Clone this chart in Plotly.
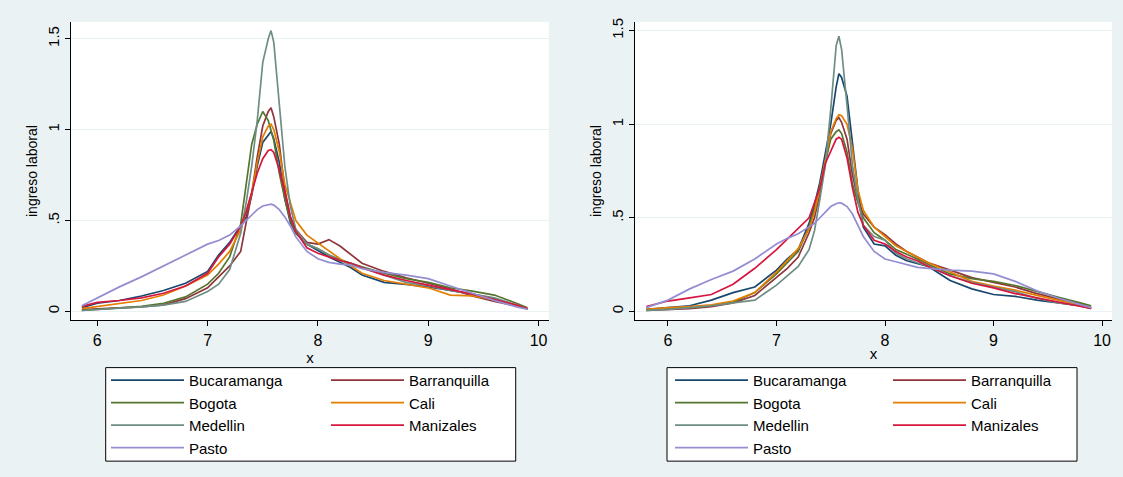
import plotly.graph_objects as go

W, H = 1123, 477

cities = ["Bucaramanga", "Barranquilla", "Bogota", "Cali", "Medellin", "Manizales", "Pasto"]
colors = ["#1a476f", "#90353b", "#55752f", "#e37e00", "#6e8e84", "#d6163f", "#938dd2"]

x_left = [5.86, 6.0, 6.2, 6.4, 6.6, 6.8, 7.0, 7.1, 7.2, 7.3, 7.35, 7.4, 7.45, 7.5,
          7.55, 7.575, 7.6, 7.65, 7.7, 7.75, 7.8, 7.9, 8.0, 8.1, 8.2, 8.3, 8.4, 8.6, 8.8,
          9.0, 9.2, 9.4, 9.6, 9.8, 9.9]
x_right = [5.8, 6.0, 6.2, 6.4, 6.6, 6.8, 7.0, 7.1, 7.2, 7.3, 7.35, 7.4, 7.45, 7.5,
           7.55, 7.575, 7.6, 7.65, 7.7, 7.75, 7.8, 7.9, 8.0, 8.1, 8.2, 8.3, 8.4, 8.6, 8.8,
           9.0, 9.2, 9.4, 9.6, 9.8, 9.9]

# left panel densities
bucaramanga_l = [0.02, 0.045, 0.06, 0.085, 0.115, 0.155, 0.22, 0.31, 0.38, 0.47, 0.52, 0.64, 0.8, 0.93,
                 0.97, 0.99, 0.95, 0.82, 0.62, 0.49, 0.43, 0.37, 0.335, 0.3, 0.27, 0.24, 0.2, 0.16, 0.148,
                 0.135, 0.115, 0.095, 0.07, 0.035, 0.015]
barranquilla_l = [0.01, 0.015, 0.02, 0.025, 0.036, 0.07, 0.13, 0.19, 0.25, 0.33, 0.49, 0.65, 0.85, 1.02,
                  1.1, 1.12, 1.07, 0.92, 0.67, 0.52, 0.45, 0.38, 0.37, 0.395, 0.36, 0.315, 0.265, 0.22, 0.185,
                  0.155, 0.125, 0.085, 0.055, 0.03, 0.015]
bogota_l = [0.005, 0.01, 0.02, 0.028, 0.045, 0.08, 0.15, 0.21, 0.3, 0.48, 0.7, 0.92, 1.03, 1.1,
            1.05, 1.0, 0.94, 0.76, 0.62, 0.5, 0.43, 0.37, 0.345, 0.31, 0.285, 0.265, 0.245, 0.21, 0.18,
            0.16, 0.13, 0.112, 0.09, 0.045, 0.02]
cali_l = [0.015, 0.027, 0.04, 0.06, 0.09, 0.14, 0.2, 0.26, 0.33, 0.45, 0.55, 0.65, 0.82, 0.96,
          1.02, 1.03, 1.0, 0.88, 0.7, 0.6, 0.5, 0.42, 0.375, 0.33, 0.29, 0.25, 0.21, 0.17, 0.15,
          0.13, 0.09, 0.085, 0.065, 0.03, 0.015]
medellin_l = [0.005, 0.01, 0.015, 0.025, 0.035, 0.055, 0.11, 0.15, 0.23, 0.43, 0.6, 0.8, 1.05, 1.37,
              1.5, 1.545, 1.48, 1.15, 0.8, 0.58, 0.45, 0.37, 0.345, 0.31, 0.28, 0.26, 0.24, 0.2, 0.16,
              0.14, 0.115, 0.095, 0.075, 0.035, 0.015]
manizales_l = [0.028, 0.05, 0.06, 0.075, 0.1, 0.14, 0.21, 0.3, 0.37, 0.47, 0.55, 0.66, 0.76, 0.84,
               0.885, 0.89, 0.875, 0.78, 0.66, 0.52, 0.44, 0.35, 0.32, 0.3, 0.28, 0.265, 0.24, 0.2, 0.17,
               0.145, 0.12, 0.095, 0.065, 0.035, 0.015]
pasto_l = [0.031, 0.075, 0.135, 0.19, 0.25, 0.31, 0.37, 0.39, 0.42, 0.47, 0.5, 0.53, 0.56, 0.58,
           0.585, 0.59, 0.585, 0.56, 0.52, 0.47, 0.41, 0.33, 0.29, 0.27, 0.26, 0.255, 0.235, 0.215, 0.2,
           0.18, 0.14, 0.1, 0.06, 0.025, 0.012]

# right panel densities
bucaramanga_r = [0.01, 0.02, 0.03, 0.06, 0.1, 0.13, 0.22, 0.28, 0.33, 0.47, 0.57, 0.69, 0.85, 1.0,
                 1.2, 1.27, 1.25, 1.15, 0.9, 0.65, 0.45, 0.36, 0.35, 0.3, 0.27, 0.255, 0.24, 0.165, 0.12,
                 0.09, 0.08, 0.06, 0.045, 0.03, 0.015]
barranquilla_r = [0.005, 0.01, 0.015, 0.025, 0.045, 0.085, 0.18, 0.23, 0.29, 0.42, 0.5, 0.63, 0.8, 0.95,
                  1.02, 1.035, 1.01, 0.92, 0.73, 0.6, 0.52, 0.45, 0.41, 0.36, 0.32, 0.29, 0.26, 0.22, 0.18,
                  0.155, 0.13, 0.095, 0.065, 0.04, 0.02]
bogota_r = [0.01, 0.015, 0.02, 0.03, 0.05, 0.1, 0.2, 0.26, 0.32, 0.45, 0.55, 0.67, 0.8, 0.92,
            0.96, 0.97, 0.95, 0.85, 0.68, 0.58, 0.5, 0.42, 0.38, 0.33, 0.305, 0.28, 0.25, 0.2, 0.175,
            0.16, 0.138, 0.105, 0.075, 0.045, 0.03]
cali_r = [0.01, 0.02, 0.025, 0.035, 0.055, 0.1, 0.21, 0.27, 0.335, 0.44, 0.53, 0.66, 0.81, 0.96,
          1.03, 1.05, 1.045, 1.0, 0.87, 0.65, 0.54, 0.45, 0.4, 0.35, 0.32, 0.29, 0.26, 0.21, 0.16,
          0.135, 0.113, 0.085, 0.06, 0.035, 0.02]
medellin_r = [0.005, 0.01, 0.02, 0.03, 0.045, 0.06, 0.14, 0.19, 0.24, 0.33, 0.43, 0.6, 0.78, 1.08,
              1.42, 1.47, 1.4, 1.1, 0.78, 0.6, 0.46, 0.4, 0.38, 0.31, 0.28, 0.26, 0.24, 0.19, 0.155,
              0.13, 0.105, 0.07, 0.045, 0.03, 0.015]
manizales_r = [0.026, 0.055, 0.072, 0.09, 0.145, 0.23, 0.33, 0.385, 0.44, 0.5, 0.58, 0.66, 0.79, 0.86,
               0.92, 0.93, 0.92, 0.82, 0.66, 0.53, 0.46, 0.38, 0.36, 0.32, 0.29, 0.27, 0.24, 0.19, 0.15,
               0.125, 0.095, 0.072, 0.05, 0.03, 0.015]
pasto_r = [0.02, 0.06, 0.12, 0.17, 0.215, 0.28, 0.36, 0.39, 0.415, 0.45, 0.47, 0.5, 0.53, 0.56,
           0.575, 0.58, 0.578, 0.56, 0.52, 0.46, 0.4, 0.32, 0.28, 0.265, 0.25, 0.235, 0.23, 0.22, 0.215,
           0.2, 0.16, 0.11, 0.07, 0.035, 0.02]

left_series = [bucaramanga_l, barranquilla_l, bogota_l, cali_l, medellin_l, manizales_l, pasto_l]
right_series = [bucaramanga_r, barranquilla_r, bogota_r, cali_r, medellin_r, manizales_r, pasto_r]

x_ticks = [6, 7, 8, 9, 10]
y_ticks = [0, 0.5, 1, 1.5]
y_ticktext = ["0", ".5", "1", "1.5"]

FONT = "Arial, Liberation Sans, sans-serif"

fig = go.Figure()

# legend column assignment (row-wise filling, 2 columns)
col_of = [0, 1, 0, 1, 0, 1, 0]
for i, (name, c) in enumerate(zip(cities, colors)):
    fig.add_trace(go.Scatter(x=x_left, y=left_series[i], mode="lines", name=name,
                             line=dict(color=c, width=1.7), xaxis="x", yaxis="y",
                             legend="legend" if col_of[i] == 0 else "legend2",
                             hoverinfo="skip"))
for i, (name, c) in enumerate(zip(cities, colors)):
    fig.add_trace(go.Scatter(x=x_right, y=right_series[i], mode="lines", name=name,
                             line=dict(color=c, width=1.7), xaxis="x2", yaxis="y2",
                             legend="legend3" if col_of[i] == 0 else "legend4",
                             hoverinfo="skip"))

def fx(px):
    return px / W

def fy(py):
    return 1 - py / H

ydom = [fy(319), fy(18)]

common_x = dict(tickvals=x_ticks, ticks="outside", ticklen=5, tickcolor="black",
                showline=True, linecolor="black", linewidth=1, showgrid=False, zeroline=False,
                tickfont=dict(size=16, color="black", family=FONT),
                title=dict(text="x", font=dict(size=15, color="black", family=FONT), standoff=0))
common_y = dict(tickvals=y_ticks, ticktext=y_ticktext, tickangle=-90, ticks="outside", ticklen=5,
                tickcolor="black", showline=True, linecolor="black", linewidth=1,
                showgrid=True, gridcolor="#eaf2f3", gridwidth=1, zeroline=False,
                tickfont=dict(size=15, color="black", family=FONT),
                title=dict(text="ingreso laboral", font=dict(size=14, color="black", family=FONT), standoff=4))

fig.update_layout(
    width=W, height=H,
    margin=dict(l=0, r=0, t=0, b=0),
    paper_bgcolor="#eaf2f3",
    plot_bgcolor="white",
    font=dict(family=FONT, color="black"),
    xaxis=dict(domain=[fx(71), fx(549)], range=[5.7616, 10.095], anchor="y", **common_x),
    yaxis=dict(domain=ydom, range=[-0.049, 1.593], anchor="x", **common_y),
    xaxis2=dict(domain=[fx(635), fx(1112)], range=[5.696, 10.092], anchor="y2", **common_x),
    yaxis2=dict(domain=ydom, range=[-0.048, 1.547], anchor="x2", **common_y),
)

leg_common = dict(orientation="v", xanchor="left", yanchor="top", bgcolor="rgba(0,0,0,0)",
                  borderwidth=0, itemwidth=73, font=dict(size=15, color="black", family=FONT),
                  itemclick=False, itemdoubleclick=False)
fig.update_layout(
    legend=dict(x=fx(106), y=fy(363), **leg_common),
    legend2=dict(x=fx(326), y=fy(363), **leg_common),
    legend3=dict(x=fx(670), y=fy(363), **leg_common),
    legend4=dict(x=fx(888), y=fy(363), **leg_common),
)

# legend frames
for x0, x1 in [(105.7, 515.7), (667, 1077)]:
    fig.add_shape(type="rect", xref="paper", yref="paper",
                  x0=fx(x0), x1=fx(x1), y0=fy(461), y1=fy(366.7),
                  line=dict(color="black", width=1), fillcolor="white", layer="above")

fig.write_html("out.html", config={"displayModeBar": False},
               post_script="document.body.style.margin='0px';document.body.style.padding='0px';")
